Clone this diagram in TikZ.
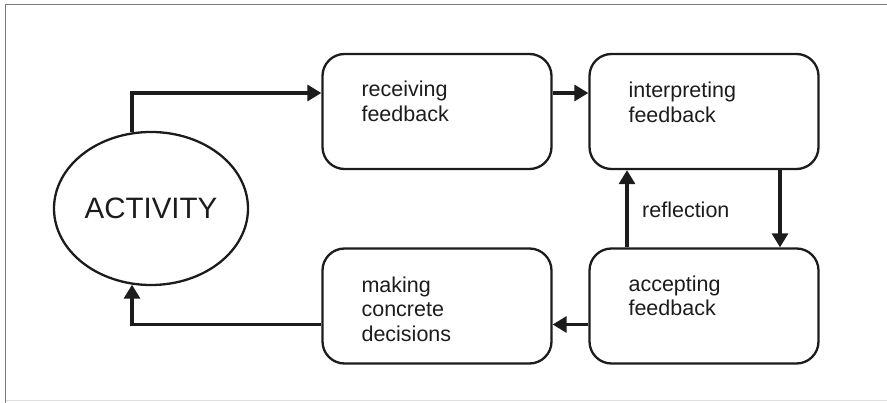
\documentclass[tikz,border=0pt]{standalone}
\usepackage{fontspec}
\setmainfont{Liberation Sans}
\usetikzlibrary{arrows.meta,shapes.geometric,calc}
\definecolor{ink}{HTML}{1C1C1C}
\definecolor{framegray}{HTML}{7A7A7A}
\begin{document}
\begin{tikzpicture}[x=1pt,y=-1pt,
  stage/.style={draw=ink,line width=2.3pt,rounded corners=22pt,
    minimum width=229pt,minimum height=115pt,inner sep=0pt},
  % anchored on the baseline of the last line of text
  stagetext/.style={anchor=base west,align=left,inner sep=0pt,text=ink,
    font=\fontsize{21.5pt}{24.5pt}\selectfont},
  flow/.style={draw=ink,line width=3.2pt,-{Triangle[length=14pt,width=16pt]}},
  frame/.style={draw=framegray,line width=1.2pt}]
  \useasboundingbox (0,0) rectangle (887,403);

  % page frame
  \draw[frame] (887,4.5) -- (5.5,4.5) -- (5.5,403);
  \draw[draw=black!12,line width=1pt] (5.5,401) -- (887,401);

  % central activity
  \node[ellipse,draw=ink,line width=2.3pt,minimum width=194pt,minimum height=153pt,
        inner sep=0pt,text=ink,font=\fontsize{29.5pt}{32pt}\selectfont]
        (act) at (151,208.5) {ACTIVITY};

  % feedback stages
  \node[stage] (recv)   at (437,111.5) {};
  \node[stage] (interp) at (704,111.5) {};
  \node[stage] (accept) at (704,306)   {};
  \node[stage] (make)   at (437,306)   {};

  \node[stagetext] (recvtxt)   at ($(recv.north west)+(40,68.5)$)   {receiving\\feedback};
  \node[stagetext] (interptxt) at ($(interp.north west)+(40,69.5)$) {interpreting\\feedback};
  \node[stagetext] (accepttxt) at ($(accept.north west)+(40,68.5)$) {accepting\\feedback};
  \node[stagetext] (maketxt)   at ($(make.north west)+(40,94)$)     {making\\concrete\\decisions};

  % connectors
  \draw[flow] (act.104) |- ([yshift=18.5pt]recv.west);
  \draw[flow] ([yshift=18.5pt]recv.east) -- ([yshift=18.5pt]interp.west);
  \draw[flow] ([xshift=76pt]interp.south) -- ([xshift=76pt]accept.north);
  \draw[flow] ([xshift=-77pt]accept.north) -- ([xshift=-77pt]interp.south);
  \draw[flow] ([yshift=-18.5pt]accept.west) -- ([yshift=-18.5pt]make.east);
  \draw[flow] ([yshift=-18.5pt]make.west) -| (act.256);

  \node[stagetext] (refl) at (642,218) {reflection};
\end{tikzpicture}
\end{document}
